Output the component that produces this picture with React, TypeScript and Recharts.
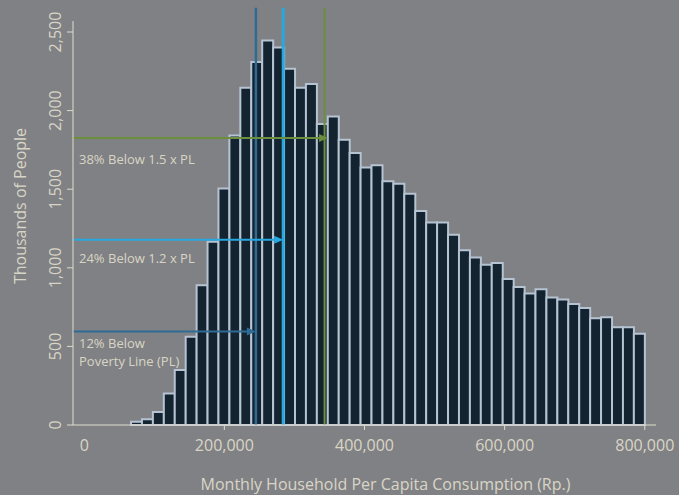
import { BarChart, Bar, XAxis, YAxis, ReferenceLine } from "recharts";

// histogram bins (Rp.) and counts (thousands of people)
const BIN_START = 66800;
const BIN_WIDTH = 15600;
const people = [
  20, 36, 83, 200, 350, 562, 889, 1165, 1505, 1842, 2145, 2309, 2446, 2402, 2267, 2145,
  2169, 1914, 1962, 1815, 1730, 1638, 1653, 1551, 1534, 1471, 1362, 1288, 1288, 1210,
  1112, 1065, 1020, 1031, 929, 878, 836, 864, 811, 798, 770, 745, 679, 686, 622, 622, 581,
];

const xTicks = [0, 200000, 400000, 600000, 800000];
const yTicks = [0, 500, 1000, 1500, 2000, 2500];
const X_DOMAIN: [number, number] = [-16000, 816000];
const Y_DOMAIN: [number, number] = [0, 2570];
const LINE_TOP = 2655;

// poverty thresholds: vertical lines + arrows pointing at them
const thresholdNames = ["PL", "1.2 x PL", "1.5 x PL"];
const thresholdValues = [245000, 284000, 343000];
const thresholdColors = ["#2e6c95", "#28a8e0", "#6b8f3c"];
const thresholdWidths = [2.5, 3, 2];
const arrowLevels = [594, 1178, 1825];
const arrowEnds = [245000, 284000, 348000];
const arrowTexts = [["12% Below", "Poverty Line (PL)"], ["24% Below 1.2 x PL"], ["38% Below 1.5 x PL"]];
const arrowTextOffsets = [16, 23, 26];

const BG = "#808184";
const AXIS = "#e0dccb";
const TEXT = "#d9d5c6";
const BAR_FILL = "#13232f";
const BAR_STROKE = "#b6c3d3";
const FONT = "'Open Sans', sans-serif";

const data = people.map((v, i) => ({ x: BIN_START + BIN_WIDTH * (i + 0.5), people: v }));

const fmt = (v: number) => v.toLocaleString("en-US");

const XTick = (props: any) => {
  const { x, y, payload } = props;
  return (
    <g>
      {payload.value !== 0 && <line x1={x} x2={x} y1={y} y2={y + 5} stroke={AXIS} strokeWidth={1} />}
      <text x={x} y={y + 26} textAnchor="middle" fill={TEXT} fontSize={16} fontFamily={FONT}>
        {fmt(payload.value)}
      </text>
    </g>
  );
};

const YTick = (props: any) => {
  const { x, y, payload } = props;
  return (
    <text
      x={x}
      y={y}
      transform={`rotate(-90, ${x}, ${y})`}
      textAnchor="middle"
      fill={TEXT}
      fontSize={16}
      fontFamily={FONT}
    >
      {fmt(payload.value)}
    </text>
  );
};

const makeArrow = (color: string, lines: string[], textDy: number) => (p: any) => {
  const { x1, y1, x2 } = p;
  const start = Math.min(x1, x2);
  const tip = Math.max(x1, x2);
  return (
    <g>
      <line x1={start} y1={y1} x2={tip - 6} y2={y1} stroke={color} strokeWidth={2} />
      <polygon points={`${tip},${y1} ${tip - 9},${y1 - 4} ${tip - 9},${y1 + 4}`} fill={color} />
      {lines.map((t, i) => (
        <text key={i} x={start + 6} y={y1 + textDy + i * 18} fill={TEXT} fontSize={13} fontFamily={FONT}>
          {t}
        </text>
      ))}
    </g>
  );
};

export default function App() {
  return (
    <div style={{ position: "fixed", left: 0, top: 0, width: 679, height: 495, background: BG }}>
      <BarChart
        width={679}
        height={495}
        data={data}
        margin={{ top: 21, right: 23, bottom: 0, left: 0 }}
        barCategoryGap={0}
        barGap={0}
      >
        <XAxis
          dataKey="x"
          type="number"
          domain={X_DOMAIN}
          ticks={xTicks}
          height={70}
          stroke={AXIS}
          tickLine={false}
          tickSize={0}
          tickMargin={0}
          tick={<XTick />}
          label={{
            content: (p: any) => (
              <text
                x={p.viewBox.x + p.viewBox.width / 2 + 21}
                y={p.viewBox.y + 65}
                textAnchor="middle"
                fill={TEXT}
                fontSize={16}
                fontFamily={FONT}
              >
                Monthly Household Per Capita Consumption (Rp.)
              </text>
            ),
          }}
        />
        <YAxis
          type="number"
          domain={Y_DOMAIN}
          ticks={yTicks}
          width={73}
          stroke={AXIS}
          tickLine={{ stroke: AXIS }}
          tickSize={6}
          tickMargin={6}
          tick={<YTick />}
          label={{
            content: (p: any) => {
              const cx = p.viewBox.x + 26;
              const cy = p.viewBox.y + p.viewBox.height / 2 - 17;
              return (
                <text
                  x={cx}
                  y={cy}
                  transform={`rotate(-90, ${cx}, ${cy})`}
                  textAnchor="middle"
                  fill={TEXT}
                  fontSize={16}
                  fontFamily={FONT}
                >
                  Thousands of People
                </text>
              );
            },
          }}
        />
        <Bar dataKey="people" fill={BAR_FILL} stroke={BAR_STROKE} strokeWidth={2} isAnimationActive={false} />
        {thresholdValues.map((v, i) => (
          <ReferenceLine
            key={"v" + thresholdNames[i]}
            segment={[
              { x: v, y: 0 },
              { x: v, y: LINE_TOP },
            ]}
            stroke={thresholdColors[i]}
            strokeWidth={thresholdWidths[i]}
            ifOverflow="visible"
          />
        ))}
        {arrowLevels.map((lvl, i) => (
          <ReferenceLine
            key={"h" + thresholdNames[i]}
            segment={[
              { x: X_DOMAIN[0], y: lvl },
              { x: arrowEnds[i], y: lvl },
            ]}
            stroke={thresholdColors[i]}
            ifOverflow="visible"
            shape={makeArrow(thresholdColors[i], arrowTexts[i], arrowTextOffsets[i])}
          />
        ))}
      </BarChart>
    </div>
  );
}
